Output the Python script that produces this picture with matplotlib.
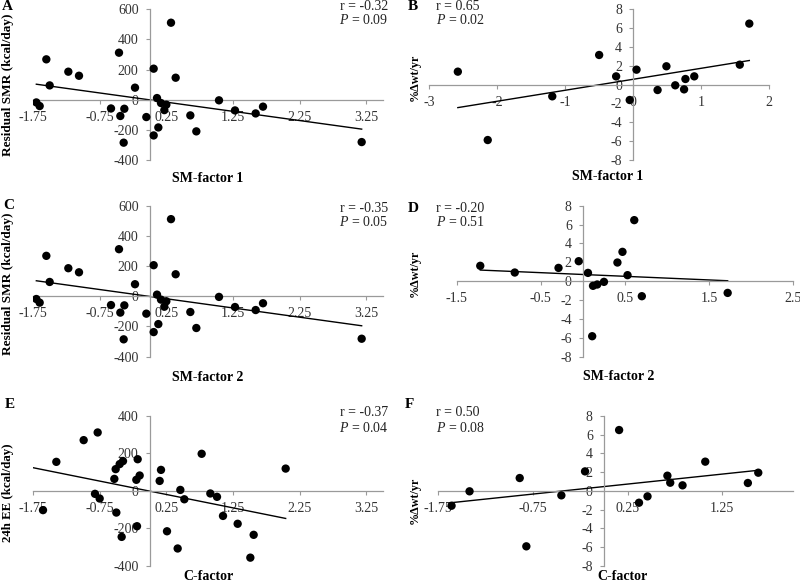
import numpy as np
import matplotlib
matplotlib.use("Agg")
import matplotlib.pyplot as plt

plt.rcParams['font.family'] = ['Liberation Serif', 'DejaVu Serif']
plt.rcParams['mathtext.fontset'] = 'custom'
plt.rcParams['mathtext.rm'] = 'Liberation Serif'
plt.rcParams['mathtext.it'] = 'Liberation Serif:italic'

# --- dane ---
# panele A i C (te same punkty)
sm_factor = [-1.70, -1.65, -1.55, -1.50, -1.22, -1.06, -0.58, -0.46, -0.44, -0.38,
             -0.39, -0.22, -0.05, 0.06, 0.06, 0.11, 0.13, 0.17, 0.22, 0.25,
             0.32, 0.39, 0.61, 0.70, 1.04, 1.28, 1.59, 1.70, 3.18]
resid_smr = [-18, -42, 268, 95, 186, 159, -58, 312, -108, -60,
             -285, 80, -115, 206, -237, 11, -184, -22, -69, -33,
             511, 146, -104, -210, -4, -71, -91, -46, -281]

# panel B
sm1_b = [-2.58, -2.14, -1.19, -0.50, -0.25, -0.05, 0.05, 0.36, 0.49, 0.62,
         0.75, 0.77, 0.90, 1.57, 1.71]
wt_b = [1.38, -5.88, -1.24, 3.15, 0.88, -1.63, 1.59, -0.57, 1.95, -0.07,
        -0.50, 0.60, 0.88, 2.12, 6.48]

# panel D
sm2_d = [-1.22, -0.81, -0.29, -0.05, 0.06, 0.12, 0.17, 0.25, 0.11, 0.41,
         0.47, 0.53, 0.61, 0.70, 1.72]
wt_d = [1.63, 0.92, 1.41, 2.12, 0.88, -0.49, -0.35, -0.07, -5.83, 1.98,
        3.11, 0.64, 6.47, -1.59, -1.24]

# panel E
c_factor = [-1.60, -1.40, -0.99, -0.78, -0.82, -0.75, -0.53, -0.51, -0.50, -0.45,
            -0.40, -0.42, -0.20, -0.18, -0.15, -0.19, 0.15, 0.17, 0.26, 0.42,
            0.46, 0.52, 0.78, 0.91, 1.01, 1.10, 1.32, 1.51, 1.56, 2.04]
ee_24h = [-103, 155, 271, 312, -16, -41, 64, 116, -116, 143,
          159, -246, 59, 169, 82, -189, 53, 112, -216, -308,
          5, -45, 198, -14, -32, -134, -176, -357, -235, 119]

# panel F
c_factor_f = [-1.61, -1.42, -0.89, -0.82, -0.45, -0.20, 0.16, 0.37, 0.46, 0.67,
              0.70, 0.83, 1.07, 1.52, 1.63]
wt_f = [-1.59, -0.05, 1.37, -5.93, -0.48, 2.08, 6.50, -1.27, -0.59, 1.62,
        0.87, 0.59, 3.12, 0.84, 1.94]

W, H = 800, 582
fig = plt.figure(figsize=(W / 100, H / 100), dpi=100, facecolor="white")

AXIS_COL = "#9a9a9a"
TXT_COL = "#333333"


def panel(rect, x, y, xlim, xticks, xlabels, ylim, yticks, ylabels,
          xlab, ylab, xlab_pos, ylab_pos, ylab_size=10, line_from=None):
    l, r, t, b = rect
    ax = fig.add_axes([l / W, 1 - b / H, (r - l) / W, (b - t) / H])
    ax.set_xlim(xlim)
    ax.set_ylim(ylim)
    for s in ("top", "right"):
        ax.spines[s].set_visible(False)
    ax.spines["left"].set_position(("data", 0))
    ax.spines["bottom"].set_position(("data", 0))
    for s in ("left", "bottom"):
        ax.spines[s].set_color(AXIS_COL)
        ax.spines[s].set_linewidth(0.9)
    ax.set_xticks(xticks)
    ax.set_xticklabels(xlabels)
    ax.set_yticks(yticks)
    ax.set_yticklabels(ylabels)
    ax.tick_params(direction="out", length=3, width=0.8, color=AXIS_COL,
                   labelsize=10, labelcolor=TXT_COL, pad=5)
    ax.patch.set_alpha(0)

    x = np.array(x)
    y = np.array(y)
    ax.scatter(x, y, s=36, color="black", zorder=3, edgecolors="none")
    # linia trendu (regresja liniowa)
    a, c = np.polyfit(x, y, 1)
    x0 = x.min() if line_from is None else line_from
    lx = np.array([x0, x.max()])
    ax.plot(lx, a * lx + c, color="black", lw=1.0, zorder=2)

    ax.set_xlabel(xlab, fontsize=10, fontweight="bold", va="center")
    ax.xaxis.set_label_coords(*xlab_pos)
    ax.set_ylabel(ylab, fontsize=ylab_size, fontweight="bold", va="center")
    ax.yaxis.set_label_coords(*ylab_pos)
    return ax


def fig_text(px, py, s, size=10, **kw):
    fig.text(px / W, 1 - py / H, s, fontsize=size, va="center", **kw)


xt_a = [-1.75, -0.75, 0.25, 1.25, 2.25, 3.25]
xl_a = ["-1.75", "-0.75", "0.25", "1.25", "2.25", "3.25"]
yt_wt = [-8, -6, -4, -2, 0, 2, 4, 6, 8]
yl_wt = [str(v) for v in yt_wt]

# A
panel((33, 383, 9.3, 160), sm_factor, resid_smr, (-1.75, 3.5), xt_a, xl_a,
      (-400, 600), [-400, -200, 0, 200, 400, 600],
      ["-400", "-200", "0", "200", "400", "600"],
      "SM-factor 1", "Residual SMR (kcal/day)", (0.5, -0.12), (-0.071, 0.50),
      ylab_size=9.5)
# B
panel((429.3, 769, 9.3, 160), sm1_b, wt_b, (-3, 2), [-3, -2, -1, 0, 1, 2],
      ["-3", "-2", "-1", "0", "1", "2"], (-8, 8), yt_wt, yl_wt,
      "SM-factor 1", "%Δwt/yr", (0.526, -0.11), (-0.042, 0.55), ylab_size=8.7)
# C
panel((33, 383, 205.7, 356.7), sm_factor, resid_smr, (-1.75, 3.5), xt_a, xl_a,
      (-400, 600), [-400, -200, 0, 200, 400, 600],
      ["-400", "-200", "0", "200", "400", "600"],
      "SM-factor 2", "Residual SMR (kcal/day)", (0.5, -0.139), (-0.071, 0.485),
      ylab_size=9.5)
# D
panel((456.7, 793.3, 205.7, 356.7), sm2_d, wt_d, (-1.5, 2.5),
      [-1.5, -0.5, 0.5, 1.5, 2.5], ["-1.5", "-0.5", "0.5", "1.5", "2.5"],
      (-8, 8), yt_wt, yl_wt,
      "SM-factor 2", "%Δwt/yr", (0.48, -0.132), (-0.124, 0.55), ylab_size=8.7)
# E
panel((33, 383, 416, 565.7), c_factor, ee_24h, (-1.75, 3.5), xt_a, xl_a,
      (-400, 400), [-400, -200, 0, 200, 400],
      ["-400", "-200", "0", "200", "400"],
      "C-factor", "24h EE (kcal/day)", (0.5, -0.072), (-0.071, 0.49),
      ylab_size=9.3, line_from=-1.75)
# F
panel((438.3, 793.3, 416, 565.7), c_factor_f, wt_f, (-1.75, 2.0),
      [-1.75, -0.75, 0.25, 1.25], ["-1.75", "-0.75", "0.25", "1.25"],
      (-8, 8), yt_wt, yl_wt,
      "C-factor", "%Δwt/yr", (0.52, -0.072), (-0.066, 0.44), ylab_size=8.7)

# litery paneli
for px, py, s in [(2, 6, "A"), (408, 7, "B"), (3, 205, "C"),
                  (408, 208, "D"), (5, 405, "E"), (405, 405, "F")]:
    fig_text(px, py, s, size=11, fontweight="bold", ha="left")

# wspolczynniki korelacji
for px, py, ha, rr, pp in [(388, 6, "right", "-0.32", "0.09"),
                           (436, 6, "left", "0.65", "0.02"),
                           (388, 208, "right", "-0.35", "0.05"),
                           (436, 208, "left", "-0.20", "0.51"),
                           (388, 413, "right", "-0.37", "0.04"),
                           (436, 413, "left", "0.50", "0.08")]:
    fig_text(px, py, "r = " + rr, ha=ha, color="#222222")
    fig_text(px, py + 14.5, r"$\mathit{P}$ = " + pp, ha=ha, color="#222222")

fig.savefig("out.png", dpi=100, facecolor="white")
